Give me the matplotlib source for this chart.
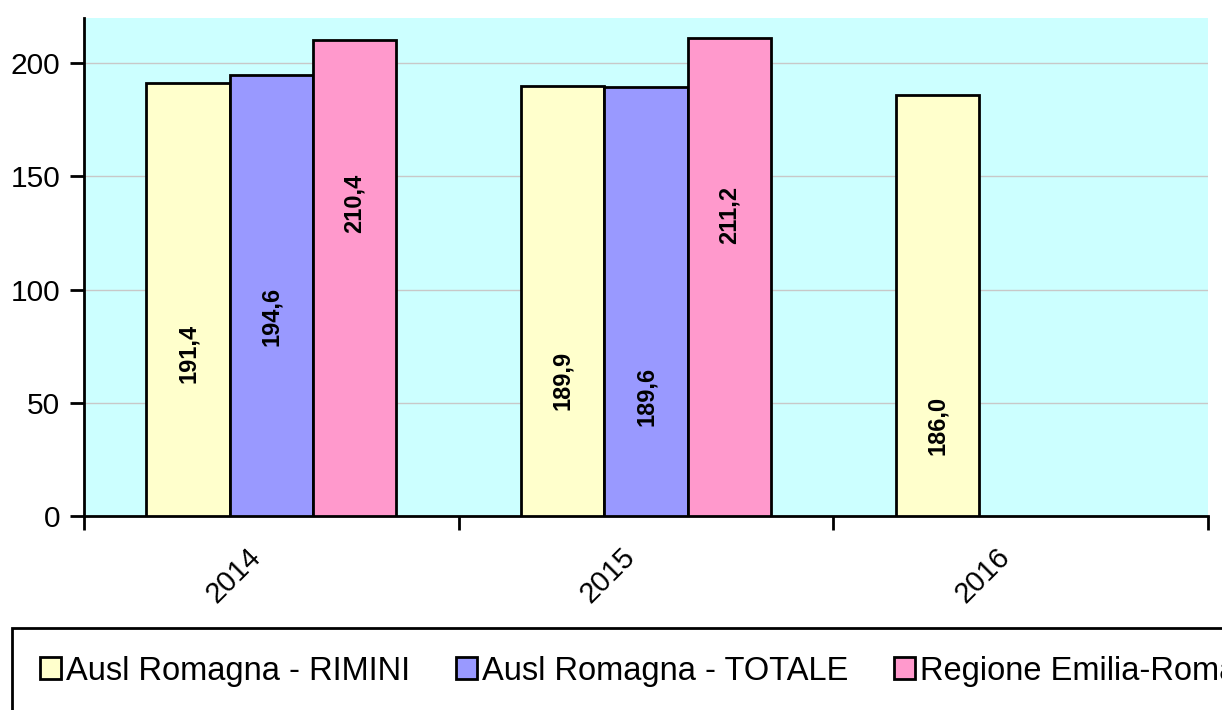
import matplotlib.pyplot as plt
import matplotlib.transforms as mtransforms
import numpy as np

plt.rcParams['font.family'] = ['Liberation Sans', 'DejaVu Sans']

years = ["2014", "2015", "2016"]
series_names = ["Ausl Romagna - RIMINI", "Ausl Romagna - TOTALE", "Regione Emilia-Romagna"]
rimini = [191.4, 189.9, 186.0]
totale = [194.6, 189.6, np.nan]
regione = [210.4, 211.2, np.nan]

# where the (hand placed) value labels sit, in data units
rimini_lbl = [72, 60, 40]
totale_lbl = [88, 53, np.nan]
regione_lbl = [138, 133, np.nan]

colors = ["#FFFFCC", "#9999FF", "#FF99CC"]
width = 1 / 4.5

fig = plt.figure(figsize=(12.22, 7.10), dpi=100)
ax = fig.add_axes([84 / 1222, 1 - 516 / 710, (1208 - 84) / 1222, (516 - 18) / 710])
ax.set_facecolor("#CCFFFF")

x = np.arange(len(years))
all_vals = [rimini, totale, regione]
all_lbl = [rimini_lbl, totale_lbl, regione_lbl]
handles = []
for i, (vals, lbls) in enumerate(zip(all_vals, all_lbl)):
    xs = x + (i - 1) * width
    b = ax.bar(xs, vals, width, color=colors[i], edgecolor="black", linewidth=2,
               label=series_names[i], zorder=3)
    handles.append(b)
    for xi, v, ly in zip(xs, vals, lbls):
        if np.isnan(v):
            continue
        ax.text(xi, ly, f"{v:.1f}".replace(".", ","), rotation=90, ha="center", va="center",
                fontsize=17, fontweight="bold", zorder=4)

ax.set_xlim(-0.5, 2.5)
ax.set_ylim(0, 220)
ax.set_yticks([0, 50, 100, 150, 200])
ax.yaxis.grid(True, color="#C8C8C8", linewidth=1, zorder=0)
ax.set_axisbelow(True)

ax.set_xticks([-0.5, 0.5, 1.5, 2.5])
ax.set_xticklabels([])
ax.set_xticks(x, minor=True)
ax.set_xticklabels(years, minor=True, rotation=45, ha="right", fontsize=21)
ax.tick_params(axis="x", which="minor", length=0, pad=19)
ax.tick_params(axis="x", which="major", length=10, width=2, direction="out")
ax.tick_params(axis="y", length=10, width=2, labelsize=21.5, pad=7)
offset = mtransforms.ScaledTranslation(-0.05, 0, fig.dpi_scale_trans)
for lab in ax.get_xticklabels(minor=True):
    lab.set_transform(lab.get_transform() + offset)

for s in ["top", "right"]:
    ax.spines[s].set_visible(False)
for s in ["left", "bottom"]:
    ax.spines[s].set_linewidth(2)

leg = fig.legend(handles=handles, labels=series_names, ncol=3, loc="upper left",
                 bbox_to_anchor=(12 / 1222, 1 - 628 / 710), fontsize=23.5,
                 frameon=True, fancybox=False, edgecolor="black", framealpha=1,
                 borderpad=0.85, handlelength=0.65, handleheight=0.65,
                 handletextpad=0.15, columnspacing=1.4, borderaxespad=0)
leg.get_frame().set_linewidth(2)
for p in leg.get_patches():
    p.set_linewidth(2)

fig.savefig("out.png", dpi=100)
